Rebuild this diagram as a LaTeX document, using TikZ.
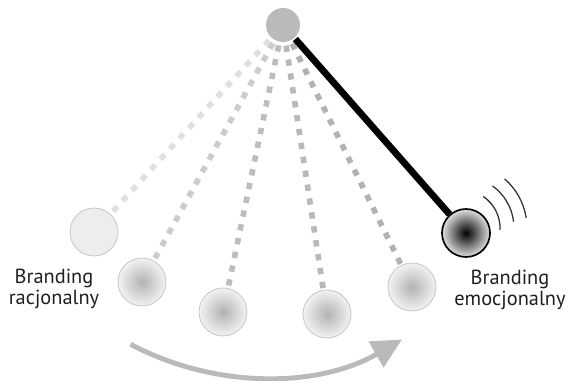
\documentclass[tikz,border=0pt]{standalone}
\usepackage{fontspec}
\setmainfont{PT Sans}
\usetikzlibrary{arrows.meta}
\tikzset{
  bob/.style={circle, minimum size=1.2cm, inner sep=0pt, draw=black!22, line width=0.6pt},
  shadedbob/.style={bob, inner color=black!30, outer color=black!5},
  rod/.style={line width=4pt, dash pattern=on 4.5pt off 5.5pt, shorten <=2.5pt},
  wave/.style={line width=0.9pt, black!80},
  brandtext/.style={align=center, font=\fontsize{14.5}{14.5}\selectfont, text=black!88}
}
\begin{document}
\begin{tikzpicture}
		\useasboundingbox (0,0) rectangle (14.2,9.525);
		\node (P) [circle, fill=black!27, minimum size=0.85cm, inner sep=0pt] at (7.075, 8.9) {};
		\node (B1) [bob, fill=black!7] at (2.35, 3.725) {};
		\node (B2) [shadedbob] at (3.55, 2.475) {};
		\node (B3) [shadedbob] at (5.575, 1.725) {};
		\node (B4) [shadedbob] at (8.175, 1.675) {};
		\node (B5) [shadedbob] at (10.3, 2.35) {};
		\node (BE) [bob, draw=black, line width=1.2pt, inner color=black, outer color=black!12] at (11.65, 3.7) {};
		
		\draw [rod, black!12] (P) -- (B1);
		\draw [rod, black!20] (P) -- (B2);
		\draw [rod, black!26] (P) -- (B3);
		\draw [rod, black!28] (P) -- (B4);
		\draw [rod, black!30] (P) -- (B5);
		\draw [line width=4.8pt, shorten <=1pt] (P) -- (BE);
		
		% sound waves
		\coordinate (W) at (11.55, 3.825);
		\foreach \r/\a/\b in {0.95/-3/56, 1.3/7/54, 1.625/9/49}
			\draw [wave] ([shift={(\a:\r)}]W) arc [start angle=\a, end angle=\b, radius=\r];
		
		\coordinate (A) at (6.55, 7.1);
		\draw [line width=3.5pt, black!27, -{Triangle[length=0.75cm, width=0.72cm]}] ([shift={(-118:7)}]A) arc [start angle=-118, end angle=-60, radius=7];
		
		\node (LR) [brandtext] at (1.35, 2.3) {Branding\\racjonalny};
		\node (RE) [brandtext] at (12.75, 2.28) {Branding\\emocjonalny};
\end{tikzpicture}
\end{document}
